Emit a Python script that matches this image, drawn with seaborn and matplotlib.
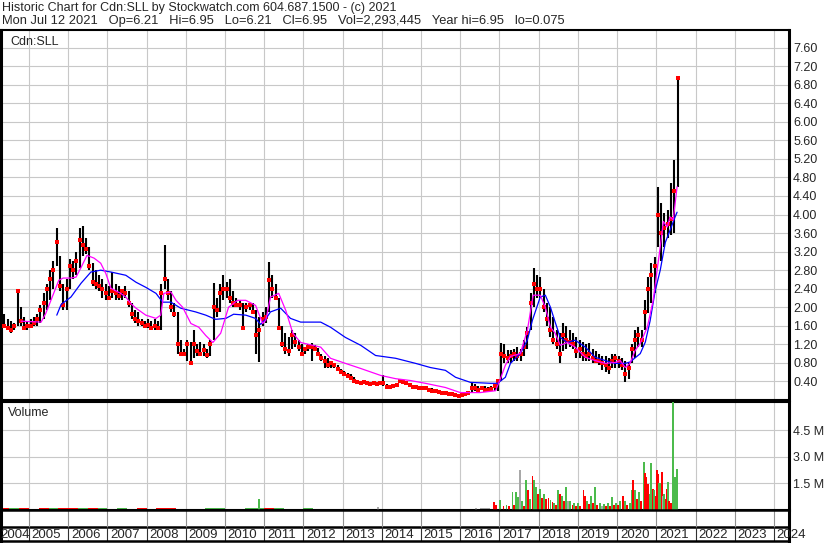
import numpy as np
import pandas as pd
import matplotlib
matplotlib.use('Agg')
import matplotlib.pyplot as plt
import seaborn as sns

sns.set_style('white')
plt.rcParams['font.family'] = ['Liberation Sans', 'DejaVu Sans']

TITLE = 'Historic Chart for Cdn:SLL by Stockwatch.com 604.687.1500 - (c) 2021'
QUOTE = ('Mon Jul 12 2021   Op=6.21   Hi=6.95   Lo=6.21   Cl=6.95   '
         'Vol=2,293,445   Year hi=6.95   lo=0.075')
SYMBOL = 'Cdn:SLL'

# monthly high / low / close, first bar is May 2004
FIRST_MONTH = '2004-05'
high = [1.85, 1.75, 1.70, 1.65, 2.40, 2.00, 1.80, 1.70,
        1.75, 1.80, 1.85, 2.05, 2.30, 2.50, 2.80, 3.00, 3.71, 3.10, 2.50, 2.60,
        3.05, 3.00, 3.20, 3.71, 3.75, 3.50, 3.30, 2.95, 2.80, 2.70, 2.60, 2.50,
        2.45, 2.75, 2.50, 2.45, 2.40, 2.45, 2.35, 2.10, 1.95, 1.90, 1.75, 1.70,
        1.75, 1.70, 1.75, 1.70, 2.50, 3.34, 2.60, 2.35, 2.10, 1.90, 1.30, 1.10,
        1.30, 1.25, 1.50, 1.20, 1.25, 1.20, 1.10, 1.30, 2.52, 2.20, 2.50, 2.70,
        2.55, 2.60, 2.35, 2.20, 2.15, 2.10, 2.10, 2.10, 2.10, 1.95, 1.80, 1.90,
        2.00, 2.98, 2.70, 2.50, 2.20, 1.60, 1.45, 1.35, 1.50, 1.45, 1.30, 1.20,
        1.15, 1.20, 1.22, 1.18, 1.12, 1.00, 0.95, 0.90, 0.82, 0.80, 0.75, 0.66,
        0.62, 0.58, 0.55, 0.50, 0.42, 0.40, 0.40, 0.40, 0.38, 0.38, 0.38, 0.40,
        0.53, 0.34, 0.30, 0.32, 0.35, 0.42, 0.42, 0.40, 0.36, 0.30, 0.29, 0.28,
        0.28, 0.27, 0.26, 0.25, 0.24, 0.22, 0.20, 0.18, 0.17, 0.16, 0.14, 0.14,
        0.12, 0.14, 0.20, 0.38, 0.35, 0.30, 0.30, 0.30, 0.28, 0.30, 0.35, 0.45,
        1.22, 1.20, 1.07, 1.07, 1.10, 1.14, 1.10, 1.30, 1.57, 2.30, 2.84, 2.70,
        2.65, 2.40, 2.10, 2.00, 1.79, 1.50, 1.44, 1.65, 1.60, 1.50, 1.45, 1.35,
        1.30, 1.25, 1.20, 1.22, 1.10, 1.05, 1.00, 0.95, 0.95, 0.90, 1.00, 1.00,
        0.95, 0.90, 0.85, 0.80, 1.20, 1.50, 1.57, 1.50, 2.15, 2.65, 2.95, 3.08,
        4.60, 4.25, 4.03, 4.10, 4.68, 5.18, 6.95]
low = [1.55, 1.50, 1.45, 1.50, 1.60, 1.60, 1.50, 1.50,
       1.55, 1.60, 1.60, 1.65, 1.75, 1.95, 2.15, 2.40, 2.90, 2.35, 1.95, 1.95,
       2.40, 2.60, 2.70, 2.85, 3.10, 3.15, 2.80, 2.45, 2.40, 2.35, 2.20, 2.15,
       2.15, 2.20, 2.15, 2.15, 2.15, 2.20, 2.00, 1.75, 1.65, 1.60, 1.60, 1.55,
       1.55, 1.50, 1.50, 1.50, 1.50, 2.40, 2.15, 1.90, 1.80, 1.00, 0.95, 0.95,
       0.85, 0.79, 0.90, 0.95, 0.95, 0.95, 0.90, 0.95, 1.30, 1.80, 1.90, 2.15,
       2.20, 2.10, 2.00, 2.00, 1.95, 1.55, 1.90, 1.95, 1.85, 1.00, 0.81, 1.60,
       1.65, 1.90, 2.20, 2.15, 1.50, 1.15, 1.00, 0.95, 1.10, 1.15, 1.05, 0.96,
       1.00, 1.05, 0.85, 1.05, 0.95, 0.85, 0.70, 0.68, 0.70, 0.70, 0.62, 0.58,
       0.52, 0.50, 0.45, 0.40, 0.36, 0.35, 0.35, 0.34, 0.32, 0.33, 0.33, 0.34,
       0.30, 0.27, 0.26, 0.27, 0.30, 0.36, 0.36, 0.35, 0.30, 0.26, 0.25, 0.24,
       0.24, 0.22, 0.20, 0.18, 0.18, 0.16, 0.14, 0.14, 0.12, 0.10, 0.08, 0.06,
       0.06, 0.08, 0.10, 0.15, 0.20, 0.20, 0.22, 0.20, 0.20, 0.20, 0.20, 0.20,
       0.40, 0.79, 0.80, 0.80, 0.85, 0.85, 0.85, 0.95, 1.10, 1.50, 2.00, 2.20,
       2.20, 1.90, 1.60, 1.35, 1.20, 1.10, 0.79, 1.05, 1.10, 1.14, 1.10, 0.90,
       0.90, 0.85, 0.85, 0.85, 0.80, 0.79, 0.75, 0.65, 0.60, 0.57, 0.70, 0.70,
       0.70, 0.64, 0.38, 0.45, 0.79, 0.90, 1.14, 1.15, 1.50, 1.87, 2.10, 2.30,
       3.30, 3.00, 3.30, 3.50, 3.55, 3.60, 4.60]
close = [1.60, 1.55, 1.50, 1.60, 2.35, 1.70, 1.55, 1.60,
         1.60, 1.65, 1.75, 1.95, 2.10, 2.40, 2.60, 2.80, 3.40, 2.45, 2.05, 2.40,
         2.90, 2.80, 3.00, 3.45, 3.35, 3.25, 2.90, 2.55, 2.50, 2.45, 2.40, 2.30,
         2.20, 2.35, 2.30, 2.25, 2.35, 2.30, 2.10, 1.85, 1.75, 1.70, 1.65, 1.60,
         1.62, 1.55, 1.60, 1.55, 2.30, 2.60, 2.30, 2.00, 1.85, 1.20, 1.00, 1.00,
         1.20, 0.80, 1.20, 1.05, 1.00, 1.07, 0.96, 1.20, 2.00, 1.95, 2.30, 2.40,
         2.40, 2.20, 2.10, 2.05, 2.05, 1.55, 2.00, 2.05, 1.90, 1.40, 1.50, 1.75,
         1.80, 2.58, 2.40, 2.20, 1.55, 1.20, 1.10, 1.05, 1.40, 1.25, 1.15, 1.00,
         1.10, 1.15, 1.15, 1.10, 1.00, 0.90, 0.85, 0.75, 0.79, 0.75, 0.66, 0.60,
         0.55, 0.52, 0.48, 0.42, 0.38, 0.37, 0.38, 0.36, 0.35, 0.36, 0.35, 0.36,
         0.36, 0.28, 0.28, 0.30, 0.32, 0.40, 0.38, 0.36, 0.32, 0.27, 0.27, 0.26,
         0.26, 0.25, 0.22, 0.20, 0.20, 0.18, 0.16, 0.15, 0.14, 0.12, 0.10, 0.08,
         0.10, 0.12, 0.15, 0.25, 0.25, 0.22, 0.25, 0.22, 0.22, 0.24, 0.30, 0.40,
         1.00, 0.95, 0.90, 0.95, 1.00, 0.95, 1.00, 1.15, 1.45, 2.10, 2.50, 2.40,
         2.40, 2.00, 1.75, 1.50, 1.30, 1.20, 1.00, 1.40, 1.30, 1.25, 1.20, 1.05,
         1.10, 1.00, 0.95, 1.00, 0.90, 0.85, 0.85, 0.80, 0.75, 0.70, 0.85, 0.90,
         0.85, 0.75, 0.55, 0.70, 1.10, 1.30, 1.40, 1.30, 1.90, 2.40, 2.70, 2.90,
         4.00, 3.60, 3.70, 3.80, 3.90, 4.50, 6.95]

# moving averages (decimal year, price)
short_ma_year = [2004.80, 2005.31, 2005.43, 2005.56, 2005.76, 2005.87, 2006.07, 2006.20,
                 2006.33, 2006.48, 2006.66, 2006.83, 2006.96, 2007.09, 2007.34, 2007.47,
                 2007.60, 2007.73, 2007.98, 2008.24, 2008.36, 2008.44, 2008.62, 2008.75,
                 2008.92, 2009.13, 2009.33, 2009.51, 2009.69, 2009.89, 2010.09, 2010.32,
                 2010.53, 2010.78, 2010.96, 2011.04, 2011.16, 2011.37, 2011.55, 2011.73,
                 2011.93, 2012.44, 2012.69, 2013.07, 2013.46, 2013.97, 2014.35, 2014.73,
                 2015.11, 2015.62, 2016.00, 2016.51, 2016.90, 2017.02, 2017.15, 2017.28,
                 2017.53, 2017.71, 2017.86, 2018.04, 2018.17, 2018.30, 2018.42, 2018.55,
                 2018.73, 2018.93, 2019.19, 2019.44, 2019.70, 2019.95, 2020.08, 2020.21,
                 2020.33, 2020.46, 2020.59, 2020.77, 2020.92, 2021.02, 2021.10, 2021.18,
                 2021.28, 2021.35, 2021.43, 2021.53]
short_ma = [1.70, 1.68, 1.87, 2.15, 2.58, 2.63, 2.63, 2.65,
            2.86, 3.12, 3.06, 2.95, 2.73, 2.41, 2.30, 2.22,
            2.08, 1.98, 1.83, 1.76, 1.83, 2.30, 2.33, 2.15,
            2.00, 1.65, 1.57, 1.39, 1.24, 1.44, 2.00, 2.15,
            2.15, 2.04, 1.65, 1.72, 2.22, 2.30, 1.93, 1.44,
            1.24, 1.14, 0.90, 0.79, 0.68, 0.53, 0.46, 0.42,
            0.36, 0.27, 0.16, 0.16, 0.20, 0.45, 0.75, 0.94,
            1.00, 1.50, 2.26, 2.26, 2.00, 1.57, 1.44, 1.18,
            1.24, 1.14, 0.92, 0.85, 0.79, 0.81, 0.85, 0.70,
            0.79, 1.07, 1.22, 1.57, 2.15, 2.80, 3.30, 3.85,
            3.73, 3.95, 3.88, 4.60]
long_ma_year = [2005.71, 2005.82, 2006.07, 2006.33, 2006.58, 2006.83, 2007.09, 2007.47,
                2007.73, 2007.98, 2008.24, 2008.41, 2008.62, 2008.87, 2009.25, 2009.51,
                2009.76, 2010.02, 2010.22, 2010.53, 2010.78, 2010.91, 2011.04, 2011.16,
                2011.42, 2011.67, 2011.93, 2012.44, 2012.69, 2013.07, 2013.46, 2013.84,
                2014.35, 2014.86, 2015.24, 2015.62, 2015.88, 2016.26, 2016.77, 2016.95,
                2017.15, 2017.28, 2017.53, 2017.71, 2017.84, 2018.04, 2018.17, 2018.30,
                2018.42, 2018.55, 2018.73, 2018.93, 2019.19, 2019.44, 2019.70, 2019.95,
                2020.21, 2020.33, 2020.59, 2020.72, 2020.84, 2020.97, 2021.10, 2021.23,
                2021.35, 2021.48, 2021.53]
long_ma = [1.83, 2.06, 2.22, 2.52, 2.76, 2.80, 2.76, 2.69,
           2.54, 2.43, 2.30, 2.11, 2.11, 1.98, 1.90, 1.83,
           1.74, 1.76, 1.85, 1.83, 1.76, 1.63, 1.75, 1.90,
           1.98, 1.76, 1.68, 1.68, 1.57, 1.35, 1.18, 0.96,
           0.90, 0.79, 0.70, 0.64, 0.49, 0.38, 0.36, 0.36,
           0.49, 0.79, 1.00, 1.29, 1.72, 2.22, 2.26, 2.00,
           1.68, 1.35, 1.24, 1.29, 1.14, 0.92, 0.85, 0.79,
           0.79, 0.82, 1.00, 1.25, 1.70, 2.35, 2.80, 3.40,
           3.66, 3.95, 4.05]

# thin quarterly volume (millions) from 2004Q2, u=up d=down n=unchanged
FIRST_QUARTER = '2004Q2'
base_vol = [0.10, 0.12, 0.09,
            0.08, 0.11, 0.13, 0.10, 0.12, 0.10, 0.09, 0.11,
            0.08, 0.10, 0.07, 0.09, 0.08, 0.12, 0.10, 0.08,
            0.07, 0.06, 0.09, 0.10, 0.08, 0.07, 0.09, 0.12,
            0.11, 0.09, 0.08, 0.07, 0.09, 0.06, 0.07, 0.08,
            0.06, 0.07, 0.05, 0.08, 0.06, 0.05, 0.07, 0.06,
            0.05, 0.06, 0.08, 0.07, 0.06, 0.08, 0.10]
base_dir = list('dud' 'udud' 'dudu' 'dudd' 'uddu' 'dduu' 'dduu'
                'dudd' 'uudd' 'nddu' 'udnd' 'dudd' 'udn')

# individual volume bars (decimal year, millions)
vol_year = [2010.87, 2013.90, 2016.40,
            2016.87, 2016.92, 2017.02, 2017.10, 2017.18, 2017.25, 2017.33, 2017.38,
            2017.43, 2017.48, 2017.53, 2017.58, 2017.63, 2017.68, 2017.73, 2017.78,
            2017.84, 2017.89, 2017.94, 2017.99, 2018.04, 2018.09, 2018.14, 2018.19,
            2018.25, 2018.30, 2018.35, 2018.40, 2018.45, 2018.50, 2018.55, 2018.60,
            2018.65, 2018.70, 2018.75, 2018.80, 2018.86, 2018.91, 2018.96, 2019.01,
            2019.06, 2019.14, 2019.19, 2019.24, 2019.29, 2019.34, 2019.39, 2019.44,
            2019.49, 2019.57, 2019.62, 2019.67, 2019.72, 2019.77, 2019.82, 2019.87,
            2019.93, 2019.98, 2020.03, 2020.08, 2020.15, 2020.21, 2020.26, 2020.33,
            2020.38, 2020.41, 2020.46, 2020.51, 2020.56, 2020.61, 2020.69, 2020.72,
            2020.74, 2020.79, 2020.84, 2020.87, 2020.92, 2020.94, 2020.99, 2021.02,
            2021.05, 2021.07, 2021.10, 2021.15, 2021.18, 2021.20, 2021.25, 2021.28,
            2021.30, 2021.33, 2021.38, 2021.43, 2021.48, 2021.53]
vol_mln = [0.62, 0.15, 0.10,
           0.43, 0.30, 0.58, 0.25, 0.30, 0.20, 1.00, 0.30,
           1.00, 0.72, 2.27, 0.50, 0.25, 1.67, 1.15, 0.60,
           1.89, 1.67, 1.30, 0.90, 1.20, 0.70, 0.90, 0.60,
           0.70, 0.55, 0.45, 0.40, 0.30, 1.10, 0.90, 0.80,
           0.50, 1.30, 0.50, 0.50, 0.30, 0.40, 0.20, 0.40,
           0.25, 1.14, 0.80, 0.50, 0.35, 0.80, 0.40, 1.30,
           0.30, 0.40, 0.20, 0.35, 0.25, 0.40, 0.20, 0.72,
           0.30, 0.40, 0.30, 0.50, 0.81, 0.50, 0.30, 0.40,
           1.10, 1.70, 1.10, 0.60, 1.00, 0.50, 2.70, 2.10,
           1.85, 1.47, 0.90, 2.65, 1.20, 1.10, 0.80, 2.24,
           2.00, 1.50, 1.50, 2.13, 0.80, 0.90, 0.60, 1.20,
           1.60, 0.50, 0.40, 6.20, 1.85, 2.29]
vol_dir = list('unn'
               'ddududud'
               'uunududu'
               'duududud'
               'dudududu'
               'dunududu'
               'dddududu'
               'dunududu'
               'dudududu'
               'udududud'
               'dduududd'
               'duudnudd'
               'udduuu')

price_ticks = [0.40, 0.80, 1.20, 1.60, 2.00, 2.40, 2.80, 3.20, 3.60, 4.00,
               4.40, 4.80, 5.20, 5.60, 6.00, 6.40, 6.80, 7.20, 7.60]
vol_ticks = [1.5, 3.0, 4.5]
years = list(range(2004, 2025))

W, H = 830, 543
X0, X1 = 2004.287, 2024.384
GRID = '#c8c8c8'
GREEN, RED, GRAY = '#4cbb4c', '#ff0000', '#a8a8a8'
dir_color = {'u': GREEN, 'd': RED, 'n': GRAY}


def box(top, bottom, left=1, right=789):
    return [left / W, 1 - bottom / H, (right - left) / W, (bottom - top) / H]


def frame(ax, side=2.2, other=1.5):
    for name, sp in ax.spines.items():
        sp.set_visible(True)
        sp.set_color('black')
        sp.set_linewidth(side if name in ('left', 'right') else other)


months = pd.period_range(FIRST_MONTH, periods=len(high), freq='M')
bar_x = months.year + (months.month - 0.5) / 12
quarters = pd.period_range(FIRST_QUARTER, periods=len(base_vol), freq='Q')
base_x = quarters.year + (quarters.quarter - 0.5) / 4

fig = plt.figure(figsize=(W / 100, H / 100), dpi=100)
fig.text(2 / W, 1 - 8 / H, TITLE, fontsize=9, va='center', ha='left')
fig.text(2 / W, 1 - 21 / H, QUOTE, fontsize=9.3, va='center', ha='left')

# price panel
ax = fig.add_axes(box(30, 400))
ax.vlines(bar_x, low, high, color='black', lw=1.5, zorder=2)
sns.scatterplot(x=bar_x, y=close, marker='s', s=6, color=RED, linewidth=0, ax=ax, zorder=3)
sns.lineplot(x=long_ma_year, y=long_ma, color='#0000ff', lw=0.9, estimator=None, sort=False, ax=ax, zorder=4)
sns.lineplot(x=short_ma_year, y=short_ma, color='#ff00ff', lw=0.9, estimator=None, sort=False, ax=ax, zorder=5)
ax.set_xlim(X0, X1)
ax.set_ylim(0, 7.98)
ax.set_xticks(years[1:])
ax.set_yticks(price_ticks)
ax.set_yticklabels([f'{t:.2f}' for t in price_ticks])
ax.yaxis.tick_right()
ax.tick_params(axis='y', length=0, pad=3, labelsize=9)
ax.tick_params(axis='x', length=0, labelbottom=False)
ax.grid(True, color=GRID, lw=0.8)
ax.set_axisbelow(True)
ax.set_xlabel('')
ax.set_ylabel('')
ax.text(9 / 788, 1 - 12 / 370, SYMBOL, transform=ax.transAxes, fontsize=9, va='center')
frame(ax)

# volume panel
axv = fig.add_axes(box(402, 510))
axv.bar(base_x, base_vol, width=0.25, color=[dir_color[d] for d in base_dir], lw=0, zorder=2)
axv.bar(vol_year, vol_mln, width=0.045, color=[dir_color[d] for d in vol_dir], lw=0, zorder=3)
axv.set_xlim(X0, X1)
axv.set_ylim(0, 6.08)
axv.set_xticks(years[1:])
axv.set_yticks(vol_ticks)
axv.set_yticklabels([f'{t:.1f} M' for t in vol_ticks])
axv.yaxis.tick_right()
axv.tick_params(axis='y', length=0, pad=3, labelsize=9)
axv.tick_params(axis='x', length=0, labelbottom=False)
axv.grid(True, color=GRID, lw=0.8)
axv.set_axisbelow(True)
axv.text(7 / 788, 1 - 11 / 108, 'Volume', transform=axv.transAxes, fontsize=9, va='center')
frame(axv)

# date strip
axd = fig.add_axes(box(510, 541))
axd.set_xlim(X0, X1)
axd.set_ylim(0, 1)
axd.set_xticks([])
axd.set_yticks([])
axd.axhline(0.45, color='black', lw=1.8)
axd.vlines(years[1:], 0.45, 1, color='#909090', lw=0.8)
axd.vlines(years[1:], 0, 0.45, color='#303030', lw=0.8)
for y in years:
    axd.text(max(y + 0.07, X0 - 0.02), 0.2, str(y), fontsize=9.5, va='center', ha='left', clip_on=False)
frame(axd, other=1.8)

fig.savefig('out.png', dpi=100)
